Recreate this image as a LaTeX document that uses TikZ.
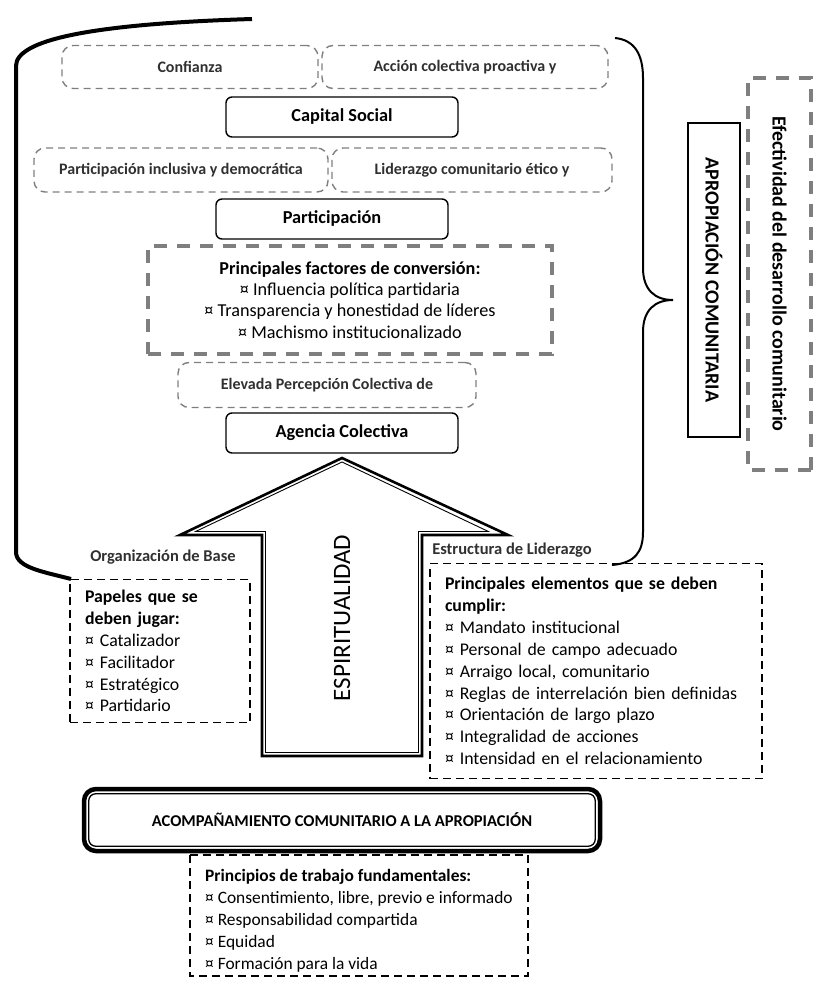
\documentclass[tikz,border=0pt]{standalone}
\usepackage{fontspec}
\setmainfont{Carlito}
\definecolor{grisdash}{HTML}{7F7F7F}
\definecolor{textogris}{HTML}{303030}
\tikzset{
  etiqueta/.style={draw=grisdash, line width=1.4pt, dash pattern=on 7pt off 5pt, rounded corners=11pt, inner sep=0pt, font=\fontsize{16}{18}\selectfont\bfseries, text=textogris},
  caja/.style={draw, line width=1.4pt, rounded corners=6pt, minimum width=232pt, minimum height=40pt, inner sep=0pt, font=\fontsize{18.3}{21}\selectfont\bfseries},
  lista/.style={draw, line width=1.8pt, dash pattern=on 8pt off 5pt, align=left, inner xsep=15pt, inner ysep=0pt, font=\fontsize{17.8}{21.9}\selectfont},
  gruesa/.style={draw=grisdash, line width=4pt, dash pattern=on 13pt off 10pt},
  nota/.style={font=\fontsize{16.5}{18}\selectfont\bfseries, text=textogris},
}
\begin{document}
\begin{tikzpicture}[x=1pt,y=-1pt]
    \useasboundingbox (0,0) rectangle (826,996);
    % llave y corchete
    \draw[line width=4pt] (252,19) .. controls (90,24) and (16,40) .. (16,66) -- (16,552) .. controls (16,568) and (45,572) .. (71,579);
    \draw[line width=2pt] (615,38) .. controls (635,40) and (643,55) .. (643,78) -- (643,268) .. controls (643,290) and (655,300) .. (673,300) .. controls (655,300) and (643,310) .. (643,332) -- (643,532) .. controls (643,552) and (635,563) .. (612,565);
    % bloque superior
    \node[etiqueta, minimum width=256pt, minimum height=43pt](conf) at (190,67) {Confianza};
    \node[etiqueta, minimum width=286pt, minimum height=43pt](accion) at (465,67) {Acción colectiva proactiva y};
    \node[caja](capital) at (342,117) {Capital Social};
    \node[etiqueta, minimum width=294pt, minimum height=44pt](partinc) at (181,170) {Participación inclusiva y democrática};
    \node[etiqueta, minimum width=280pt, minimum height=44pt](lider) at (472,170) {Liderazgo comunitario ético y};
    \node[caja](particip) at (332,219) {Participación};
    \node[gruesa, minimum width=404pt, minimum height=108pt, align=center, inner sep=0pt, font=\fontsize{18.2}{21.2}\selectfont](factores) at (350,300) {\textbf{Principales factores de conversión:}\\ ¤ Influencia política partidaria\\ ¤ Transparencia y honestidad de líderes\\ ¤ Machismo institucionalizado};
    \node[etiqueta, minimum width=298pt, minimum height=45pt](elevada) at (327,385) {Elevada Percepción Colectiva de};
    \node[caja](agencia) at (342,433) {Agencia Colectiva};
    % flecha
    \draw[line width=2.6pt, line join=miter] (342,458)--(508,535)--(422,535)--(422,756)--(262,756)--(262,535)--(180,535)--cycle;
    \draw[line width=0.9pt, line join=miter] (342,462)--(488.4,531.5)--(418.5,531.5)--(418.5,752.5)--(265.5,752.5)--(265.5,531.5)--(195.6,531.5)--cycle;
    \node[rotate=90, font=\fontsize{25}{28}\selectfont](espiritu) at (342,618) {ESPIRITUALIDAD};
    \node[nota](orgbase) at (163,557) {Organización de Base};
    \node[nota](estruct) at (512,550) {Estructura de Liderazgo};
    % cuadros de listas
    \node[lista, text width=150pt, minimum height=143pt](papeles) at (160,651) {\textbf{Papeles que se}\\ \textbf{deben jugar:}\\ ¤ Catalizador\\ ¤ Facilitador\\ ¤ Estratégico\\ ¤ Partidario};
    \node[lista, text width=302pt, minimum height=215pt](elementos) at (596,671) {\textbf{Principales elementos que se deben}\\ \textbf{cumplir:}\\ ¤ Mandato institucional\\ ¤ Personal de campo adecuado\\ ¤ Arraigo local, comunitario\\ ¤ Reglas de interrelación bien definidas\\ ¤ Orientación de largo plazo\\ ¤ Integralidad de acciones\\ ¤ Intensidad en el relacionamiento};
    % acompañamiento
    \node[draw, line width=4.5pt, rounded corners=12pt, minimum width=516pt, minimum height=62pt, font=\fontsize{16.5}{20}\selectfont\bfseries](acomp) at (342,820) {ACOMPAÑAMIENTO COMUNITARIO A LA APROPIACIÓN};
    \draw[line width=1.3pt, rounded corners=7pt] ([shift={(7,7)}]acomp.north west) rectangle ([shift={(-7,-7)}]acomp.south east);
    \node[anchor=north west, align=left, inner sep=0pt, font=\fontsize{17.4}{22}\selectfont](principios) at (205,869) {\textbf{Principios de trabajo fundamentales:}\\ ¤ Consentimiento, libre, previo e informado\\ ¤ Responsabilidad compartida\\ ¤ Equidad\\ ¤ Formación para la vida};
    \draw[line width=1.8pt, dash pattern=on 8pt off 5pt] (190,855) rectangle (528,976);
    % lado derecho
    \node[draw, line width=2pt, rotate=-90, minimum width=314pt, minimum height=52pt, font=\fontsize{20}{22}\selectfont\bfseries](aprop) at (714,280) {APROPIACIÓN COMUNITARIA};
    \node[gruesa, rotate=-90, minimum width=392pt, minimum height=63pt, font=\fontsize{20}{22}\selectfont\bfseries](efect) at (779.5,274) {Efectividad del desarrollo comunitario};
\end{tikzpicture}
\end{document}
